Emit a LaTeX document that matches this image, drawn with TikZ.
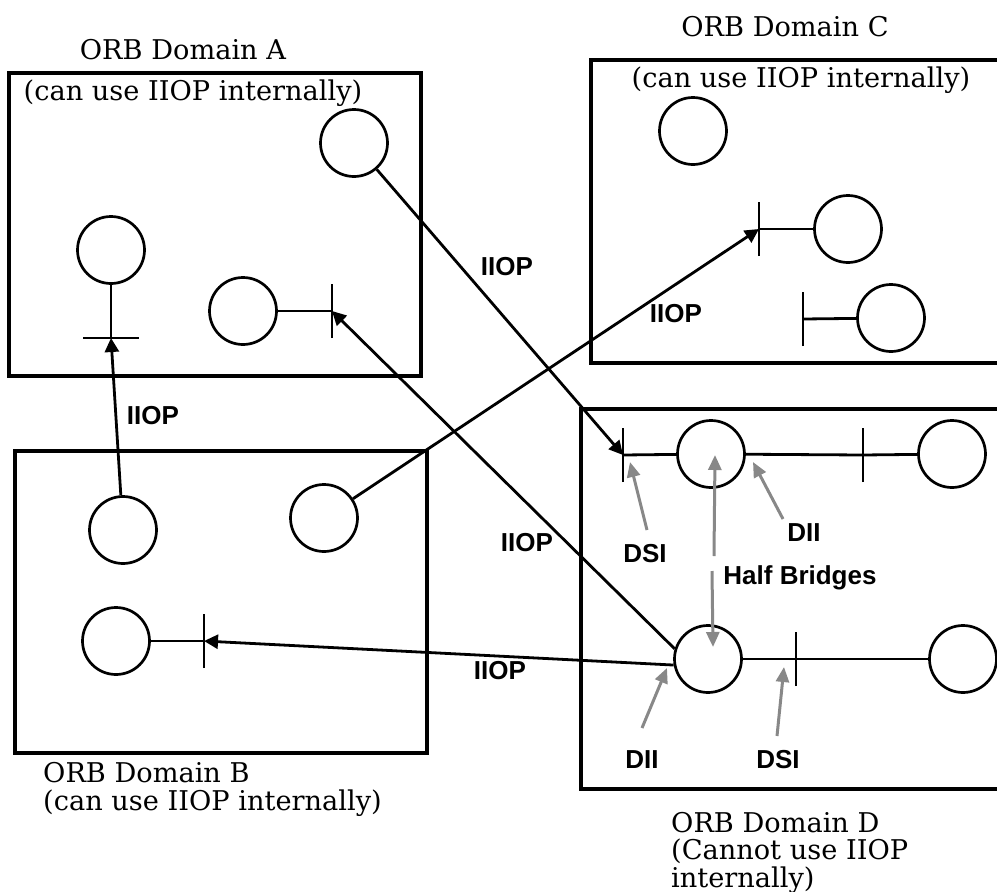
\documentclass[tikz,border=0pt]{standalone}
\usepackage{fontspec}
\setmainfont{DejaVu Serif}
\newfontfamily\labelfont{Liberation Sans}
\usepackage{tikz}
\usetikzlibrary{arrows.meta}
\usetikzlibrary{positioning}
\definecolor{pointgray}{RGB}{136,136,136}
\tikzstyle{domainbox} = [line width=3.2pt]
\tikzstyle{obj} = [draw, circle, line width=2.7pt, minimum size=67pt, inner sep=0pt]
\tikzstyle{ifbar} = [line width=2.8pt]
\tikzstyle{arrow} = [line width=2.8pt,-{Triangle[length=14pt,width=14pt]}]
\tikzstyle{hint} = [line width=3pt,pointgray,-{Triangle[length=15pt,width=13pt]}]
\tikzstyle{domaintext} = [font=\fontsize{27.2}{27.5}\selectfont, inner sep=0pt]
\tikzstyle{tag} = [font=\labelfont\bfseries\fontsize{26}{28}\selectfont, inner sep=0pt]

\begin{document}
\begin{tikzpicture}[x=1pt,y=-1pt]
  \useasboundingbox (0,0) rectangle (997,892);
  \clip (0,0) rectangle (997,892);
  % the four domains
  \draw[domainbox] (9,73) rectangle (421,376);
  \draw[domainbox] (15,451) rectangle (427,753);
  \draw[domainbox] (591,60) rectangle (1005,363);
  \draw[domainbox] (581,409) rectangle (1005,789);
  \node[domaintext, anchor=base] (namea) at (183,59) {ORB Domain A};
  \node[domaintext, anchor=base] (usea) at (193,100) {(can use IIOP internally)};
  \node[domaintext, anchor=base] (namec) at (785,36) {ORB Domain C};
  \node[domaintext, anchor=base] (usec) at (801,87) {(can use IIOP internally)};
  \node[domaintext, anchor=base west, align=left] (nameb) at (43,810) {ORB Domain B\\(can use IIOP internally)};
  \node[domaintext, anchor=base west, align=left] (named) at (671,887) {ORB Domain D\\(Cannot use IIOP\\internally)};

  % objects
  \node[obj] (a1) at (354,143) {};
  \node[obj] (a2) at (111,250) {};
  \node[obj] (a3) at (243,311) {};
  \node[obj] (b1) at (123,530) {};
  \node[obj] (b2) at (324,518) {};
  \node[obj] (b3) at (116,641) {};
  \node[obj] (c1) at (693,131) {};
  \node[obj] (c2) at (848,229) {};
  \node[obj] (c3) at (891,318) {};
  \node[obj] (d1) at (711,454) {};
  \node[obj] (d2) at (952,454) {};
  \node[obj] (d3) at (708,659) {};
  \node[obj] (d4) at (963,659) {};

  % interfaces
  \coordinate (ba2) at (111,338);
  \coordinate (ba3) at (332,311);
  \coordinate (bb3) at (204,641);
  \coordinate (bc2) at (759,229);
  \coordinate (bc3) at (803,319);
  \coordinate (bd1) at (623,455);
  \coordinate (bd2) at (863,455);
  \coordinate (bd3) at (796,659);
  \draw[ifbar] ([xshift=-28pt]ba2) -- ([xshift=28pt]ba2);
  \foreach \b in {ba3,bb3,bc2,bc3,bd1,bd2,bd3}
    \draw[ifbar] ([yshift=-27pt]\b) -- ([yshift=27pt]\b);
  \draw[ifbar] (a2) -- (ba2);
  \draw[ifbar] (a3) -- (ba3);
  \draw[ifbar] (b3) -- (bb3);
  \draw[ifbar] (c2) -- (bc2);
  \draw[ifbar] (c3) -- (bc3);
  \draw[ifbar] (bd1) -- (d1);
  \draw[ifbar] (d1) -- (bd2) -- (d2);
  \draw[ifbar] (d3) -- (bd3) -- (d4);

  % IIOP requests
  \draw[arrow] (b1) -- (ba2);
  \draw[arrow] (b2) -- (bc2);
  \draw[arrow] (a1) -- (bd1);
  \draw[arrow] (d3.163) -- (ba3);
  \draw[arrow] (d3.190) -- (bb3);
  \node[tag, anchor=base] (iiop1) at (153,424) {IIOP};
  \node[tag, anchor=base] (iiop2) at (507,275) {IIOP};
  \node[tag, anchor=base] (iiop3) at (676,322) {IIOP};
  \node[tag, anchor=base] (iiop4) at (527,551) {IIOP};
  \node[tag, anchor=base] (iiop5) at (500,679) {IIOP};

  % half bridges in domain D
  \node[tag, anchor=base] (dsi1) at (645,562) {DSI};
  \node[tag, anchor=base] (dii1) at (804,541) {DII};
  \node[tag, anchor=base] (half) at (800,584) {Half Bridges};
  \node[tag, anchor=base] (dii2) at (642,768) {DII};
  \node[tag, anchor=base] (dsi2) at (778,768) {DSI};
  \coordinate (dsi1tail) at (647,530);
  \coordinate (dsi1head) at (630,462);
  \coordinate (dii1tail) at (783,519);
  \coordinate (dii1head) at (753,462);
  \coordinate (halfup) at (714,556);
  \coordinate (halfuphead) at (715,455);
  \coordinate (halfdown) at (712,571);
  \coordinate (halfdownhead) at (713,647);
  \coordinate (dii2tail) at (642,728);
  \coordinate (dii2head) at (667,668);
  \coordinate (dsi2tail) at (777,736);
  \coordinate (dsi2head) at (784,667);
  \draw[hint] (dsi1tail) -- (dsi1head);
  \draw[hint] (dii1tail) -- (dii1head);
  \draw[hint] (halfup) -- (halfuphead);
  \draw[hint] (halfdown) -- (halfdownhead);
  \draw[hint] (dii2tail) -- (dii2head);
  \draw[hint] (dsi2tail) -- (dsi2head);
\end{tikzpicture}
\end{document}
